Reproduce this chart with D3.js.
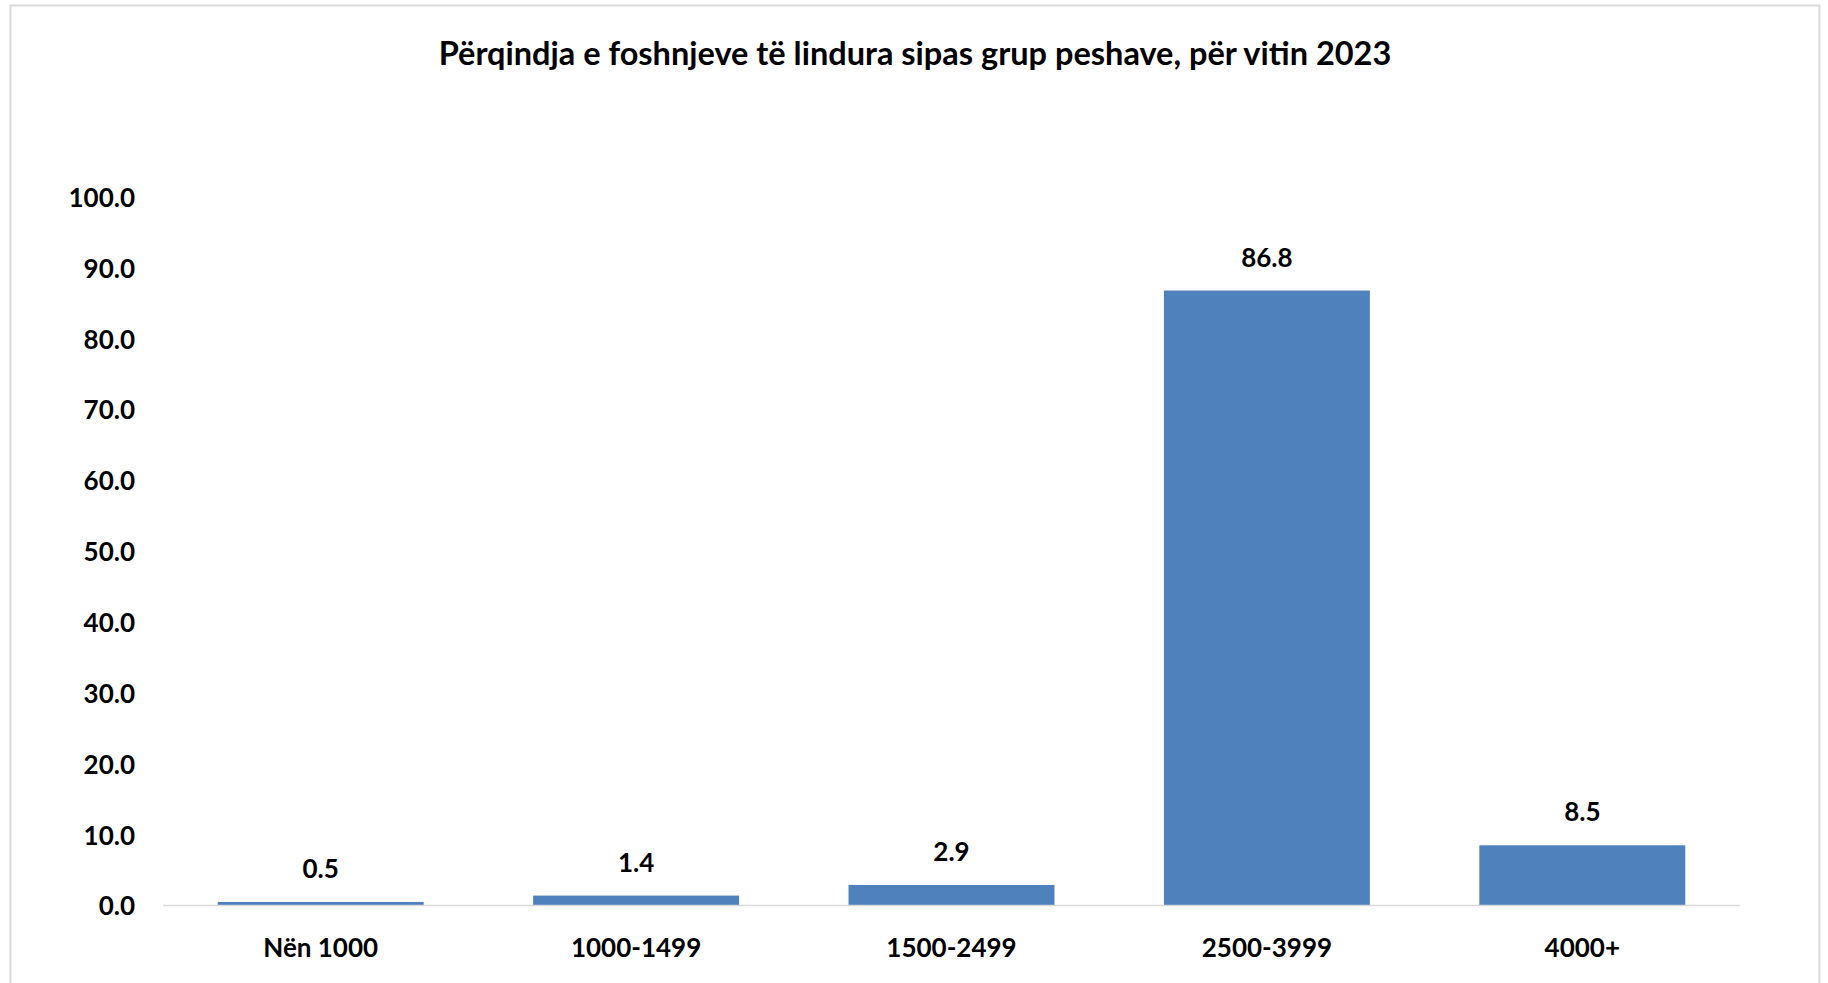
<!DOCTYPE html>
<html>
<head>
<meta charset="utf-8">
<script src="https://cdn.jsdelivr.net/npm/d3@7"></script>
<style>
  body { margin: 0; background: #fff; overflow: hidden; }
  svg { display: block; }
  text { font-family: Lato, "Open Sans", sans-serif; font-weight: bold; fill: #000; }
</style>
</head>
<body>
<script>
const width = 1828;
const height = 983;

// Data
const categories = ["Nën 1000", "1000-1499", "1500-2499", "2500-3999", "4000+"];
const values = [0.5, 1.4, 2.9, 86.8, 8.5];
const yTicks = [0, 10, 20, 30, 40, 50, 60, 70, 80, 90, 100];
const title = "Përqindja e foshnjeve të lindura sipas grup peshave, për vitin 2023";

const data = categories.map((c, i) => ({ c, v: values[i] }));

const svg = d3.select("body").append("svg").attr("width", width).attr("height", height);

// Chart border
svg.append("rect")
  .attr("x", 10.5).attr("y", 5.5)
  .attr("width", 1809).attr("height", 1000)
  .attr("fill", "none")
  .attr("stroke", "#d9d9d9")
  .attr("stroke-width", 2);

svg.append("text")
  .attr("x", 915).attr("y", 65)
  .attr("text-anchor", "middle")
  .style("font-size", "32.5px")
  .text(title);

const margin = { left: 163, right: 1740, top: 197, bottom: 905.5 };

const xScale = d3.scaleBand()
  .domain(categories)
  .range([margin.left, margin.right])
  .paddingInner(0.347)
  .paddingOuter(0.1735);

const yScale = d3.scaleLinear()
  .domain([0, 100])
  .range([margin.bottom, margin.top]);

// Y axis (labels only)
const yAxis = d3.axisLeft(yScale)
  .tickValues(yTicks)
  .tickFormat(d3.format(".1f"))
  .tickSize(0)
  .tickPadding(0);

const gy = svg.append("g").attr("transform", "translate(135,0)").call(yAxis);
gy.select(".domain").remove();
gy.selectAll("text").style("font-size", "26px").attr("font-family", null).attr("dy", "0.36em");

// Bars
svg.append("g")
  .selectAll("rect")
  .data(data)
  .join("rect")
  .attr("x", (d) => xScale(d.c))
  .attr("y", (d) => yScale(d.v))
  .attr("width", xScale.bandwidth())
  .attr("height", (d) => yScale(0) - yScale(d.v))
  .attr("fill", "#4f81bd");

// Baseline
svg.append("line")
  .attr("x1", margin.left).attr("x2", margin.right)
  .attr("y1", yScale(0)).attr("y2", yScale(0))
  .attr("stroke", "#d9d9d9")
  .attr("stroke-width", 1.5);

// Value labels
svg.append("g")
  .selectAll("text")
  .data(data)
  .join("text")
  .attr("x", (d) => xScale(d.c) + xScale.bandwidth() / 2)
  .attr("y", (d) => yScale(d.v) - 24)
  .attr("text-anchor", "middle")
  .style("font-size", "26px")
  .text((d) => d3.format(".1f")(d.v));

// X axis labels
const xAxis = d3.axisBottom(xScale).tickSize(0).tickPadding(0);
const gx = svg.append("g").attr("transform", `translate(0,${yScale(0)})`).call(xAxis);
gx.select(".domain").remove();
gx.selectAll("text").style("font-size", "26px").attr("font-family", null).attr("dy", null).attr("y", 51);
</script>
</body>
</html>
